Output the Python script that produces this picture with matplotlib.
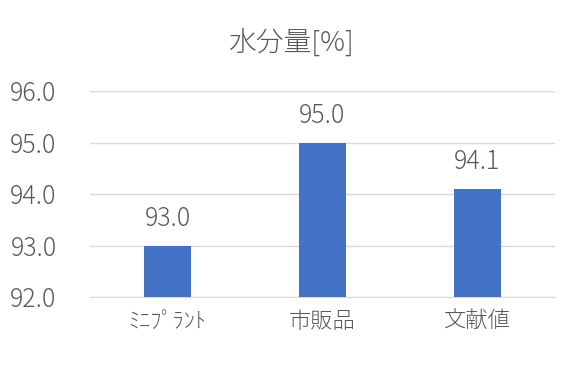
import matplotlib
matplotlib.use("Agg")
import matplotlib.pyplot as plt

plt.rcParams['font.family'] = ['Noto Sans CJK JP', 'DejaVu Sans']

# データ
categories = ['ﾐﾆﾌﾟﾗﾝﾄ', '市販品', '文献値']
values = [93.0, 95.0, 94.1]
yticks = [92.0, 93.0, 94.0, 95.0, 96.0]

text_color = '#595959'

fig = plt.figure(figsize=(5.81, 3.69), dpi=100)
ax = fig.add_axes([0.155, 0.195, 0.8, 0.558])

bars = ax.bar(range(len(categories)), [v - 92.0 for v in values], bottom=92.0,
              width=0.3, color='#4472C4', zorder=3)
for i, v in enumerate(values):
    ax.text(i, v + 0.27, f'{v:.1f}', ha='center', va='bottom',
            fontsize=18, color=text_color, fontweight='light')

ax.set_xlim(-0.5, 2.5)
ax.set_ylim(92.0, 96.0)
ax.set_yticks(yticks)
ax.set_yticklabels([f'{t:.1f}' for t in yticks], fontsize=18,
                   color=text_color, fontweight='light')
ax.set_xticks(range(len(categories)))
ax.set_xticklabels(categories, fontsize=16, color=text_color,
                   fontweight='light')
ax.tick_params(axis='both', length=0)
ax.tick_params(axis='y', pad=24)
ax.tick_params(axis='x', pad=10)
ax.grid(axis='y', color='#D9D9D9', linewidth=1, zorder=0)
for s in ['top', 'right', 'left']:
    ax.spines[s].set_visible(False)
ax.spines['bottom'].set_color('#D9D9D9')

fig.text(0.5, 0.885, '水分量[%]', ha='center', va='center',
         fontsize=20, color=text_color, fontweight='light')

fig.savefig('out.png', dpi=100)
